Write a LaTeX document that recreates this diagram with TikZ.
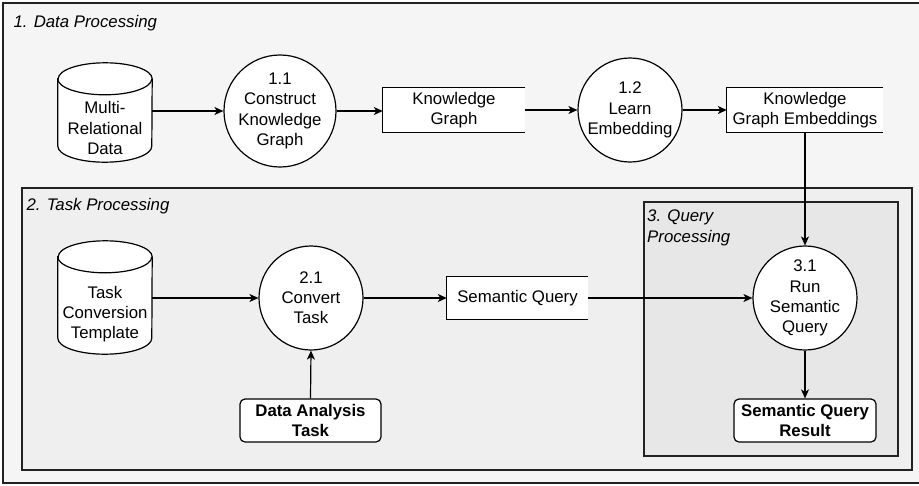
\documentclass[tikz,border=0pt]{standalone}
\usepackage{fontspec}
\setmainfont{Liberation Sans}
\usetikzlibrary{arrows.meta}

\definecolor{outerbg}{HTML}{F5F5F5}
\definecolor{taskbg}{HTML}{EFEFEF}
\definecolor{querybg}{HTML}{E7E7E7}
\definecolor{frame}{HTML}{222222}

\begin{document}
\begin{tikzpicture}[
    x = 1pt,
    y = -1pt,
    >={Stealth[length=9pt, width=8pt, inset=2.5pt]},
    every node/.style = {font=\fontsize{16.8}{20.2}\selectfont, align=center},
    process/.style = {circle, draw, fill=white, line width=1.2pt,
    minimum size=104pt, inner sep=0pt},
    store/.style = {fill=white, minimum width=142pt, minimum height=44pt,
    inner sep=0pt},
    database/.style = {rectangle, minimum width=94pt, inner sep=0pt},
    entity/.style = {rectangle, rounded corners=5pt, draw, fill=white,
    line width=1.2pt, minimum width=141pt, minimum height=43pt,
    inner sep=0pt, font=\fontsize{16.8}{20.2}\selectfont\bfseries},
    title/.style = {font=\fontsize{16.8}{20.2}\selectfont\itshape, align=left},
    flow/.style = {->, line width=1.2pt},
    cyl/.style = {line width=1.2pt, fill=white},
]

\clip (0,0) rectangle (919,485);

% areas
\draw [fill=outerbg, draw=frame, line width=1.8pt] (3,3) rectangle (940,483);
\draw [fill=taskbg, draw=frame, line width=1.4pt] (22,188) rectangle (912,470);
\draw [fill=querybg, draw=frame, line width=1.4pt] (644,202) rectangle (898,456);

\node[title, anchor=west] (area_1) at (10,23) {1. Data Processing};
\node[title, anchor=west] (area_2) at (23,206) {2. Task Processing};
\node[title, anchor=north west, inner sep=0pt] (area_3) at (647,210) {3. Query\\Processing};

% 1. data processing
\node[database, minimum height=99pt] (db_1) at (105,112.5) {};
\draw [cyl] ([yshift=-16pt]db_1.north west) -- ([yshift=16pt]db_1.south west)
    arc[start angle=180, end angle=360, x radius=47pt, y radius=16pt]
    -- ([yshift=-16pt]db_1.north east)
    arc[start angle=0, end angle=180, x radius=47pt, y radius=16pt] -- cycle;
\draw [line width=1.2pt] ([yshift=-16pt]db_1.north west)
    arc[start angle=180, end angle=360, x radius=47pt, y radius=16pt];
\node (db_1_text) at (105,128) {Multi-\\Relational\\Data};
\node[process] (proc_11) at (280,111) {1.1\\Construct\\Knowledge\\Graph};
\node[store] (store_kg) at (454,110) {Knowledge\\Graph};
\node[process] (proc_12) at (630,110) {1.2\\Learn\\Embedding};
\node[store, minimum width=156pt] (store_kge) at (805,110) {Knowledge\\Graph Embeddings};

% 2. task processing
\node[database, minimum height=113pt] (db_2) at (105,297.5) {};
\draw [cyl] ([yshift=-16pt]db_2.north west) -- ([yshift=16pt]db_2.south west)
    arc[start angle=180, end angle=360, x radius=47pt, y radius=16pt]
    -- ([yshift=-16pt]db_2.north east)
    arc[start angle=0, end angle=180, x radius=47pt, y radius=16pt] -- cycle;
\draw [line width=1.2pt] ([yshift=-16pt]db_2.north west)
    arc[start angle=180, end angle=360, x radius=47pt, y radius=16pt];
\node (db_2_text) at (105,314) {Task\\Conversion\\Template};
\node[process] (proc_21) at (311,298) {2.1\\Convert\\Task};
\node[store, minimum width=141pt, minimum height=42pt] (store_sq) at (517.5,298) {Semantic Query};
\node[entity] (task_in) at (310.5,420.5) {Data Analysis\\Task};

% 3. query processing
\node[process] (proc_31) at (805,298) {3.1\\Run\\Semantic\\Query};
\node[entity, minimum width=142pt] (result_out) at (805,420.5) {Semantic Query\\Result};

% open data stores
\draw [line width=1.2pt] (store_kg.north east) -- (store_kg.north west) -- (store_kg.south west) -- (store_kg.south east);
\draw [line width=1.2pt] (store_kge.north east) -- (store_kge.north west) -- (store_kge.south west) -- (store_kge.south east);
\draw [line width=1.2pt] (store_sq.north east) -- (store_sq.north west) -- (store_sq.south west) -- (store_sq.south east);

\draw [flow] (db_1.east |- proc_11.west) -- (proc_11.west);
\draw [flow] (proc_11.east) -- (store_kg.west |- proc_11.east);
\draw [flow] (store_kg.east) -- (proc_12.west);
\draw [flow] (proc_12.east) -- (store_kge.west);
\draw [flow] (store_kge.south) -- (proc_31.north);
\draw [flow] (db_2.east |- proc_21.west) -- (proc_21.west);
\draw [flow] (proc_21.east) -- (store_sq.west);
\draw [flow] (store_sq.east) -- (proc_31.west);
\draw [flow] (task_in.north) -- (proc_21.south);
\draw [flow] (proc_31.south) -- (result_out.north);

\end{tikzpicture}
\end{document}
